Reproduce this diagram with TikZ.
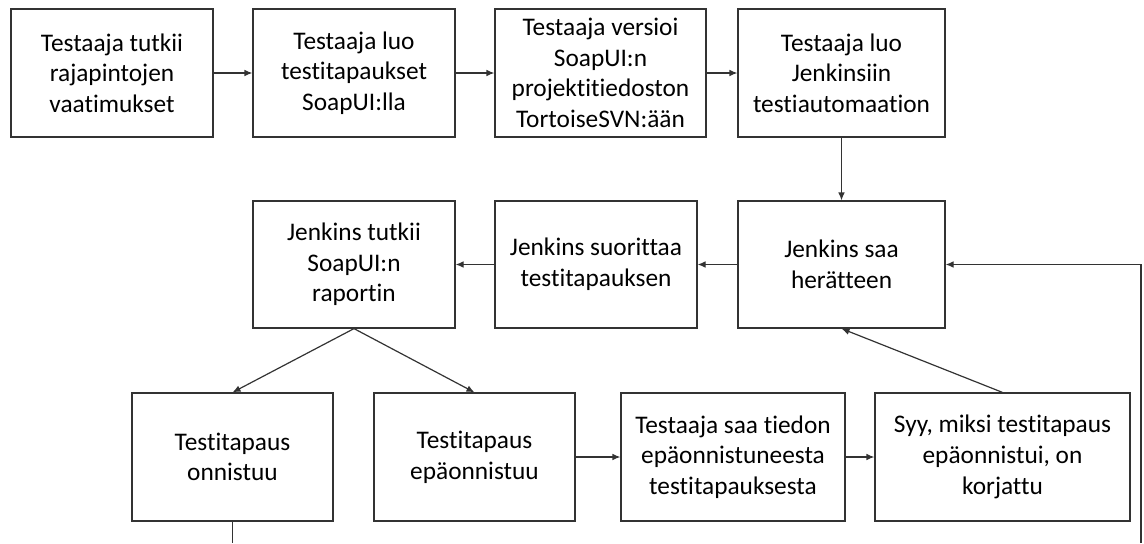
\documentclass[tikz,border=0pt]{standalone}
\usepackage{fontspec}
\setmainfont{Carlito}[Ligatures=NoCommon]
\usepackage{tikz}
\usetikzlibrary{positioning,arrows.meta}

\tikzset{
  laatikko/.style={draw=black!80,line width=0.9pt,align=center,inner sep=1pt,
    minimum height=96pt,font=\fontsize{19}{23}\selectfont},
  nuoli/.style={-{Latex[length=6pt,width=5pt]},line width=0.9pt,draw=black!80},
  viiva/.style={line width=0.9pt,draw=black!80},
}

\begin{document}
\begin{tikzpicture}[x=0.75pt,y=-0.75pt]
  \useasboundingbox (0,0) rectangle (1144,543);
  % rivi 1
  \node[laatikko,minimum width=151.5pt] (tutkii) at (112,73) {Testaaja tutkii\\rajapintojen\\vaatimukset};
  \node[laatikko,minimum width=151.5pt] (luo) at (354,73) {Testaaja luo\\testitapaukset\\SoapUI:lla};
  \node[laatikko,minimum width=158.25pt] (versioi) at (600.5,73) {Testaaja versioi\\SoapUI:n\\projektitiedoston\\TortoiseSVN:ään};
  \node[laatikko,minimum width=155.25pt] (jenkinsiin) at (841.5,73) {Testaaja luo\\Jenkinsiin\\testiautomaation};
  % rivi 2
  \node[laatikko,minimum width=151.5pt,minimum height=95.25pt] (raportti) at (354,264.5) {Jenkins tutkii\\SoapUI:n\\raportin};
  \node[laatikko,minimum width=151.5pt,minimum height=95.25pt] (suorittaa) at (596,264.5) {Jenkins suorittaa\\testitapauksen};
  \node[laatikko,minimum width=155.25pt,minimum height=95.25pt] (heratys) at (841.5,264.5) {Jenkins saa\\herätteen};
  % rivi 3
  \node[laatikko,minimum width=150.75pt] (onnistuu) at (232.5,457) {Testitapaus\\onnistuu};
  \node[laatikko,minimum width=150.75pt] (epaonnistuu) at (474.5,457) {Testitapaus\\epäonnistuu};
  \node[laatikko,minimum width=168pt] (tieto) at (733,457) {Testaaja saa tiedon\\epäonnistuneesta\\testitapauksesta};
  \node[laatikko,minimum width=191.25pt] (korjattu) at (1002.5,457) {Syy, miksi testitapaus\\epäonnistui, on\\korjattu};
  \coordinate (alaraja) at (232.5,543); % viiva jatkuu alas
  \coordinate (oikea) at (1141,543);

  \draw[nuoli] (tutkii) -- (luo);
  \draw[nuoli] (luo) -- (versioi);
  \draw[nuoli] (versioi) -- (jenkinsiin);
  \draw[nuoli] (jenkinsiin) -- (heratys);
  \draw[nuoli] (heratys) -- (suorittaa);
  \draw[nuoli] (suorittaa) -- (raportti);
  \draw[nuoli] (raportti.south) -- (onnistuu.north);
  \draw[nuoli] (raportti.south) -- (epaonnistuu.north);
  \draw[nuoli] (epaonnistuu) -- (tieto);
  \draw[nuoli] (tieto) -- (korjattu);
  \draw[nuoli] (korjattu.north) -- (heratys.south);
  \draw[nuoli] (oikea) |- (heratys.east); % paluu oikealta
  \draw[viiva] (onnistuu.south) -- (alaraja);
\end{tikzpicture}
\end{document}
